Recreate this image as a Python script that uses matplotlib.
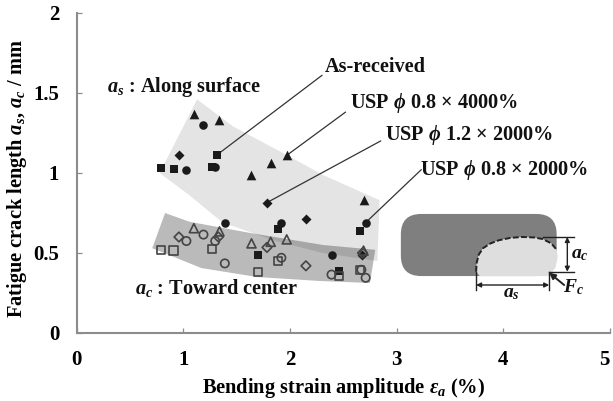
import matplotlib
matplotlib.use("Agg")
import matplotlib.pyplot as plt
from matplotlib.patches import Polygon, FancyBboxPatch

plt.rcParams.update({
    "font.family": "Liberation Serif", "font.weight": "bold", "axes.labelweight": "bold",
    "mathtext.fontset": "custom", "mathtext.rm": "Liberation Serif:bold",
    "mathtext.it": "Liberation Serif:italic:bold", "mathtext.bf": "Liberation Serif:bold",
    "mathtext.default": "it",
})

# solid markers: along surface (a_s)
as_tri_x = [1.10, 1.34, 1.97, 1.82, 1.64, 2.69]
as_tri_y = [1.37, 1.33, 1.11, 1.06, 0.985, 0.83]
as_cir_x = [1.19, 1.03, 1.39, 1.30, 1.92, 2.71, 2.39]
as_cir_y = [1.30, 1.02, 0.69, 1.04, 0.685, 0.69, 0.49]
as_squ_x = [0.79, 0.91, 1.32, 1.27, 1.89, 2.66, 1.70, 2.46]
as_squ_y = [1.03, 1.025, 1.115, 1.035, 0.65, 0.64, 0.49, 0.39]
as_dia_x = [0.96, 1.785, 2.15, 2.68]
as_dia_y = [1.115, 0.815, 0.715, 0.485]
# open markers: toward center (a_c)
ac_tri_x = [1.10, 1.34, 1.64, 1.82, 1.97, 2.69]
ac_tri_y = [0.655, 0.635, 0.56, 0.57, 0.585, 0.515]
ac_cir_x = [1.03, 1.19, 1.30, 1.39, 1.92, 2.39, 2.71, 2.67]
ac_cir_y = [0.575, 0.615, 0.575, 0.435, 0.47, 0.365, 0.345, 0.395]
ac_squ_x = [0.79, 0.91, 1.27, 1.70, 1.89, 2.46, 2.66]
ac_squ_y = [0.52, 0.515, 0.525, 0.38, 0.45, 0.355, 0.395]
ac_dia_x = [0.96, 1.33, 1.785, 2.15, 2.68]
ac_dia_y = [0.60, 0.60, 0.535, 0.42, 0.50]

# shaded scatter bands
as_band_x = [0.78, 1.13, 1.47, 1.97, 2.31, 2.84, 2.82, 2.31, 1.84, 1.63, 1.37, 1.06, 0.78]
as_band_y = [1.00, 1.46, 1.29, 1.1125, 0.9875, 0.83, 0.45, 0.50, 0.58, 0.63, 0.69, 0.86, 1.00]
ac_band_x = [0.71, 0.83, 1.06, 1.63, 2.31, 2.80, 2.75, 2.28, 1.69, 1.17, 0.71]
ac_band_y = [0.53, 0.75, 0.695, 0.625, 0.55, 0.52, 0.3125, 0.325, 0.35, 0.406, 0.53]

# inset specimen sketch, in axis units
lobe_x = [3.745, 3.75, 3.77, 3.81, 3.88, 3.96, 4.07, 4.18, 4.29, 4.37, 4.45, 4.50]
lobe_y = [0.383, 0.437, 0.49, 0.53, 0.56, 0.58, 0.595, 0.60, 0.597, 0.587, 0.56, 0.52]
lobe_tail_x = [4.51, 4.49, 4.43, 3.78]
lobe_tail_y = [0.477, 0.41, 0.356, 0.356]

GRAY = "#8c8c8c"
fig = plt.figure(figsize=(6.13, 4.01), dpi=100)
ax = fig.add_axes([76.5/613, 1-333/401, 533.5/613, 320/401])
ax.set_xlim(0, 5); ax.set_ylim(0, 2)
for s in ("top", "right"):
    ax.spines[s].set_visible(False)
for s in ("left", "bottom"):
    ax.spines[s].set_color(GRAY); ax.spines[s].set_linewidth(1.5)
ax.set_xticks(range(6)); ax.set_yticks([0, .5, 1, 1.5, 2])
ax.set_yticklabels(["0", "0.5", "1", "1.5", "2"])
ax.tick_params(direction="in", length=3.5, width=0.9, color=GRAY, labelsize=15)
ax.tick_params(axis="x", pad=12.5)
ax.tick_params(axis="y", pad=12.5)
ax.get_xticklabels()[-1].set_ha("right")
ax.set_xlabel(r"Bending strain amplitude $\varepsilon_a$ (%)", fontsize=14.7)
ax.set_ylabel(r"Fatigue crack length $a_s$, $a_c$ / mm", fontsize=14.7)
ax.xaxis.set_label_coords(0.5, -0.134)
ax.yaxis.set_label_coords(-0.089, 0.484)

ax.add_patch(Polygon(list(zip(as_band_x, as_band_y)), fc="#e4e4e4", ec="none", zorder=1))
ax.add_patch(Polygon(list(zip(ac_band_x, ac_band_y)), fc="#000000", alpha=0.27, ec="none", zorder=1.5))

for x, y, m, s in [(as_tri_x, as_tri_y, "^", 48), (as_cir_x, as_cir_y, "o", 38),
                   (as_squ_x, as_squ_y, "s", 40), (as_dia_x, as_dia_y, "D", 26)]:
    ax.scatter(x, y, marker=m, s=s, c="#1a1a1a", linewidths=0, zorder=3)
for x, y, m, s in [(ac_tri_x, ac_tri_y, "^", 42), (ac_cir_x, ac_cir_y, "o", 36),
                   (ac_squ_x, ac_squ_y, "s", 36), (ac_dia_x, ac_dia_y, "D", 24)]:
    ax.scatter(x, y, marker=m, s=s, facecolors="none", edgecolors="#444444", linewidths=1.2, zorder=3)

# leaders and labels
lab = dict(fontsize=14.6, color="#111111", ha="left", va="center")
ln = dict(color="#333333", lw=0.9, zorder=2)
ax.plot([1.32, 2.30], [1.115, 1.61], **ln)
ax.plot([1.97, 2.52], [1.11, 1.38], **ln)
ax.plot([1.785, 2.85], [0.815, 1.20], **ln)
ax.plot([2.71, 3.23], [0.69, 1.02], **ln)
ax.text(2.33, 1.66, "As-received", **lab)
ax.text(2.56, 1.44, r"USP $\phi$ 0.8 $\times$ 4000%", **lab)
ax.text(2.89, 1.24, r"USP $\phi$ 1.2 $\times$ 2000%", **lab)
ax.text(3.22, 1.02, r"USP $\phi$ 0.8 $\times$ 2000%", **lab)
ax.text(0.29, 1.54, r"$a_s$ : Along surface", **lab)
ax.text(0.55, 0.28, r"$a_c$ : Toward center", **lab)

# inset sketch
ax.add_patch(FancyBboxPatch((3.23, 0.483), 1.08, 0.134, boxstyle="round,pad=0.19,rounding_size=0.19",
                            fc="#7f7f7f", ec="none", mutation_aspect=107/160, zorder=2))
ax.fill(lobe_x + lobe_tail_x, lobe_y + lobe_tail_y, fc="#dedede", ec="none", zorder=2.2)
ax.plot(lobe_x, lobe_y, color="#222222", lw=1.4, ls=(0, (3, 1.2)), zorder=2.4)
k = dict(color="#222222", lw=1, zorder=2.5)
ax.plot([3.745, 3.745], [0.27, 0.383], **k)
ax.plot([4.43, 4.43], [0.27, 0.38], **k)
ax.plot([4.37, 4.66], [0.60, 0.60], **k)
ax.plot([4.43, 4.66], [0.383, 0.383], **k)
arr = dict(arrowstyle="<|-|>", color="#222222", lw=1, mutation_scale=7, shrinkA=0, shrinkB=0)
ax.annotate("", (3.745, 0.30), (4.43, 0.30), arrowprops=arr, zorder=2.5)
ax.annotate("", (4.60, 0.60), (4.60, 0.383), arrowprops=arr, zorder=2.5)
ax.annotate("", (4.43, 0.377), (4.57, 0.30), arrowprops=dict(arrowstyle="-|>", color="#222222", lw=1.4,
            mutation_scale=9, shrinkA=0, shrinkB=0), zorder=2.5)
ax.text(4.075, 0.25, r"$a_s$", fontsize=14, ha="center", va="center", color="#111111")
ax.text(4.72, 0.49, r"$a_c$", fontsize=14, ha="center", va="center", color="#111111")
ax.text(4.66, 0.285, r"$F_c$", fontsize=14, ha="center", va="center", color="#111111")

fig.savefig("out.png", dpi=100)
